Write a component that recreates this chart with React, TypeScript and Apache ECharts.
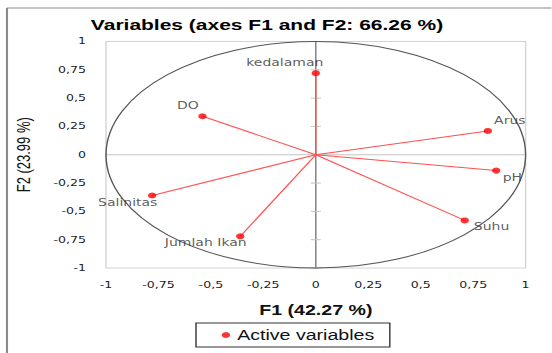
import React, { useEffect, useRef } from 'react';
import * as echarts from 'echarts';

// The reference image is horizontally stretched; we draw in a narrower chart and stretch it.
const SX = 1.4;
const PAGE_W = 552;
const PAGE_H = 353;
const W = PAGE_W / SX;

const chartTitle = 'Variables (axes F1 and F2: 66.26 %)';
const xName = 'F1 (42.27 %)';
const yName = 'F2 (23.99 %)';
const legendName = 'Active variables';

const variables = ['kedalaman', 'DO', 'Arus', 'pH', 'Suhu', 'Salinitas', 'Jumlah Ikan'];
const f1 = [0.0, -0.54, 0.82, 0.86, 0.71, -0.78, -0.36];
const f2 = [0.72, 0.34, 0.21, -0.14, -0.58, -0.36, -0.72];
const axisTicks = [-1, -0.75, -0.5, -0.25, 0, 0.25, 0.5, 0.75, 1];

// label offsets (page px) relative to the point: [dx, dy]
const labelOffsets: [number, number][] = [
  [-31, -10],
  [-14.6, -10.7],
  [22, -10.7],
  [16.2, 7],
  [26.8, 6.4],
  [-24.4, 7.3],
  [-34.5, 6],
];

const fmt = (v: number) => String(v).replace('.', ',');

export default function App() {
  const ref = useRef<HTMLDivElement>(null);
  useEffect(() => {
    const chart = echarts.init(ref.current!, null, { renderer: 'svg' });
    const points = variables.map((n, i) => ({
      name: n,
      value: [f1[i], f2[i]],
      label: { offset: [labelOffsets[i][0] / SX, labelOffsets[i][1]] },
    }));
    const axisCommon = {
      type: 'value',
      min: -1,
      max: 1,
      interval: 0.25,
      axisLine: { show: false },
      axisTick: { show: false },
      splitLine: { show: false },
      nameLocation: 'middle',
    };
    chart.setOption({
      animation: false,
      grid: {
        left: 106 / SX,
        right: (PAGE_W - 526) / SX,
        top: 41.5,
        bottom: PAGE_H - 268,
        show: true,
        borderColor: '#d4d4d4',
        borderWidth: 1,
        backgroundColor: 'transparent',
      },
      xAxis: {
        ...axisCommon,
        name: xName,
        nameGap: 35,
        nameTextStyle: { fontFamily: 'Liberation Sans', fontWeight: 'bold', fontSize: 14, color: '#111' },
        axisLabel: {
          margin: 12.5,
          formatter: fmt,
          fontFamily: 'DejaVu Sans',
          fontSize: 9,
          color: '#222',
          showMinLabel: true,
          showMaxLabel: true,
        },
      },
      yAxis: {
        ...axisCommon,
        name: yName,
        nameGap: 52,
        nameTextStyle: { fontFamily: 'Liberation Sans', fontSize: 13, color: '#111' },
        axisLabel: {
          margin: 14.3,
          formatter: fmt,
          fontFamily: 'DejaVu Sans',
          fontSize: 9,
          color: '#222',
          showMinLabel: true,
          showMaxLabel: true,
        },
      },
      legend: {
        data: [legendName],
        left: 140,
        top: 323,
        padding: [5, 11, 5, 18.4],
        icon: 'circle',
        itemWidth: 6,
        itemHeight: 6,
        borderColor: '#333',
        borderWidth: 1,
        textStyle: { fontFamily: 'Liberation Sans', fontSize: 14, color: '#111' },
      },
      graphic: [
        {
          type: 'line',
          silent: true,
          shape: { x1: 5, y1: 8, x2: W, y2: 8 },
          style: { stroke: '#8a8a8a', lineWidth: 1 },
        },
        {
          type: 'line',
          silent: true,
          shape: { x1: 5, y1: 8, x2: 5, y2: PAGE_H },
          style: { stroke: '#8a8a8a', lineWidth: 1.5 },
        },
        {
          type: 'text',
          silent: true,
          x: 267 / SX,
          y: 25,
          style: {
            text: chartTitle,
            fontFamily: 'Liberation Sans',
            fontWeight: 'bold',
            fontSize: 15,
            fill: '#000',
            align: 'center',
            verticalAlign: 'middle',
          },
        },
      ],
      series: [
        {
          type: 'custom',
          name: 'circle',
          silent: true,
          z: 1,
          data: [[0, 0]],
          renderItem: (params: any, api: any) => {
            const c = api.coord([0, 0]);
            const r = api.coord([1, 1]);
            const children: any[] = [
              {
                type: 'line',
                shape: { x1: api.coord([-1, 0])[0], y1: c[1], x2: api.coord([1, 0])[0], y2: c[1] },
                style: { stroke: '#c4c4c4', lineWidth: 1 },
              },
              {
                type: 'line',
                shape: { x1: c[0], y1: api.coord([0, 1])[1], x2: c[0], y2: api.coord([0, -1])[1] },
                style: { stroke: '#7a7a7a', lineWidth: 1 },
              },
            ];
            axisTicks.forEach((t) => {
              const y = api.coord([0, t])[1];
              children.push({
                type: 'line',
                shape: { x1: c[0] - 3.6, y1: y, x2: c[0] + 3.6, y2: y },
                style: { stroke: '#c4c4c4', lineWidth: 1 },
              });
            });
            children.push({
              type: 'ellipse',
              shape: { cx: c[0], cy: c[1], rx: r[0] - c[0], ry: c[1] - r[1] },
              style: { fill: 'none', stroke: '#555', lineWidth: 1 },
            });
            return { type: 'group', children };
          },
        },
        {
          type: 'custom',
          name: 'vectors',
          silent: true,
          z: 2,
          data: variables.map((n, i) => [f1[i], f2[i]]),
          renderItem: (params: any, api: any) => {
            const o = api.coord([0, 0]);
            const p = api.coord([api.value(0), api.value(1)]);
            return {
              type: 'line',
              shape: { x1: o[0], y1: o[1], x2: p[0], y2: p[1] },
              style: { stroke: '#ff5050', lineWidth: 1 },
            };
          },
        },
        {
          type: 'scatter',
          name: legendName,
          z: 3,
          data: points,
          symbol: 'circle',
          symbolSize: 6,
          itemStyle: { color: '#ff0000' },
          label: {
            show: true,
            position: 'inside',
            formatter: '{b}',
            fontFamily: 'DejaVu Sans',
            fontSize: 10,
            color: '#333',
            align: 'center',
            verticalAlign: 'middle',
          },
        },
      ],
    });
    return () => chart.dispose();
  }, []);
  return (
    <div
      ref={ref}
      style={{
        position: 'absolute',
        left: 0,
        top: 0,
        width: W,
        height: PAGE_H,
        transform: `scaleX(${SX})`,
        transformOrigin: '0 0',
      }}
    />
  );
}
